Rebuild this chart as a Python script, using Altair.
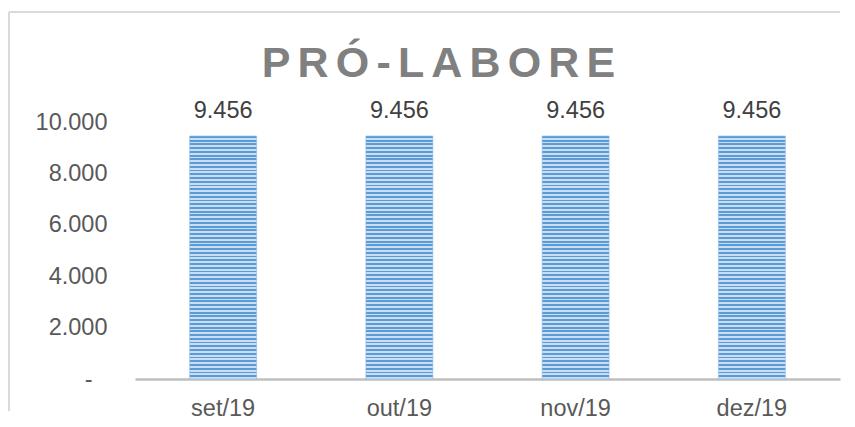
import altair as alt
import pandas as pd

months = ["set/19", "out/19", "nov/19", "dez/19"]
values = [9456, 9456, 9456, 9456]
y_ticks = [0, 2000, 4000, 6000, 8000, 10000]
title_text = "PRÓ-LABORE"

df = pd.DataFrame({"mes": months, "valor": values})

# horizontal stripe pattern emulated by a vertical gradient with hard stops
dark = "#5b9bd5"
light = "#c9def3"
n_stripes = 65
stops = []
for i in range(n_stripes):
    a = i / n_stripes
    m = (i + 0.5) / n_stripes
    b = (i + 1) / n_stripes
    stops += [
        {"offset": a, "color": dark},
        {"offset": m, "color": dark},
        {"offset": m, "color": light},
        {"offset": b, "color": light},
    ]
stripe_fill = alt.Gradient(gradient="linear", x1=0, y1=0, x2=0, y2=1, stops=stops)

FONT = "Liberation Sans"
TXT = "#595959"

x_enc = alt.X(
    "mes:N",
    sort=months,
    title=None,
    scale=alt.Scale(paddingInner=0.62, paddingOuter=0.31),
    axis=alt.Axis(
        labelAngle=0,
        labelFontSize=23.5,
        labelColor=TXT,
        labelFont=FONT,
        labelPadding=17,
        ticks=False,
        tickSize=0,
        domainColor="#bfbfbf",
        domainWidth=2.5,
        grid=False,
    ),
)
y_enc = alt.Y(
    "valor:Q",
    title=None,
    scale=alt.Scale(domain=[0, 10000], nice=False),
    axis=alt.Axis(
        values=y_ticks,
        labelExpr="datum.value == 0 ? '-' : replace(format(datum.value, ','), ',', '.')",
        labelFontSize=23.5,
        labelColor=TXT,
        labelFont=FONT,
        labelPadding={"condition": {"test": "datum.value == 0", "value": 43}, "value": 28},
        ticks=False,
        tickSize=0,
        domain=False,
        grid=False,
    ),
)

bars = alt.Chart(df).mark_bar(fill=stripe_fill, stroke="#8fbbe6", strokeWidth=0.6).encode(x=x_enc, y=y_enc)

labels = (
    alt.Chart(df)
    .transform_calculate(lbl="replace(format(datum.valor, ','), ',', '.')")
    .mark_text(baseline="alphabetic", dy=-18, fontSize=23.5, font=FONT, color="#404040")
    .encode(x=alt.X("mes:N", sort=months), y="valor:Q", text="lbl:N")
)

border_top = alt.Chart(df).mark_rule(color="#d9d9d9", strokeWidth=1.5).encode(
    x=alt.value(-126), x2=alt.value(705), y=alt.value(-110)
)
border_left = alt.Chart(df).mark_rule(color="#d9d9d9", strokeWidth=1.5).encode(
    x=alt.value(-126), y=alt.value(-110), y2=alt.value(289)
)

spaced_title = "\u2006".join(list(title_text))
title_mark = (
    alt.Chart(pd.DataFrame({"t": [spaced_title]}))
    .mark_text(
        fontSize=43, font=FONT, fontWeight="bold", color="#808080",
        align="center", baseline="alphabetic",
    )
    .encode(text="t:N", x=alt.value(303.5), y=alt.value(-45))
)

chart = (
    alt.layer(border_top, border_left, bars, labels, title_mark)
    .properties(
        width=705,
        height=257,
        padding={"left": 127, "top": 114, "right": 7, "bottom": 40},
        autosize=alt.AutoSizeParams(type="none"),
    )
    .configure_view(stroke=None)
)

chart.save("out.html", embed_options={"renderer": "svg", "actions": False})
